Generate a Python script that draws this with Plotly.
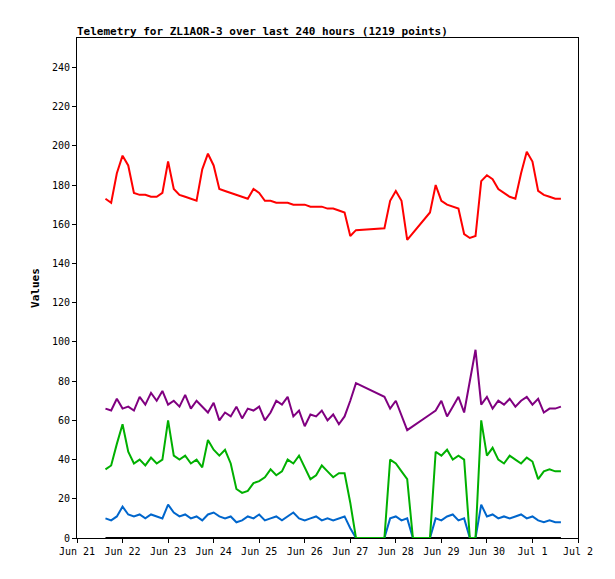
import pandas as pd
import plotly.graph_objects as go

# hours since Jun 21 00:00, sampled every 3 hours
hours = list(range(15, 256, 3))

red = [173, 171, 186, 195, 190, 176, 175, 175, 174, 174, 176, 192, 178, 175, 174, 173,
       172, 188, 196, 190, 178, 177, 176, 175, 174, 173, 178, 176, 172, 172, 171, 171,
       171, 170, 170, 170, 169, 169, 169, 168, 168, 167, 166, 154, 157, None, None, None,
       None, 158, 172, 177, 172, 152, None, None, None, 166, 180, 172, 170, 169, 168, 155,
       153, 154, 182, 185, 183, 178, 176, 174, 173, 186, 197, 192, 177, 175, 174, 173, 173]
purple = [66, 65, 71, 66, 67, 65, 72, 68, 74, 70, 75, 68, 70, 67, 73, 66,
          70, 67, 64, 69, 60, 64, 62, 67, 61, 66, 65, 67, 60, 64, 70, 68,
          72, 62, 65, 57, 63, 62, 65, 60, 63, 58, 62, 70, 79, None, None, None,
          None, 72, 66, 70, 62, 55, None, None, None, 63, 65, 70, 62, 67, 72, 64,
          80, 96, 68, 72, 66, 70, 68, 71, 67, 70, 72, 68, 71, 64, 66, 66, 67]
green = [35, 37, 48, 58, 44, 38, 40, 37, 41, 38, 40, 60, 42, 40, 42, 38,
         40, 36, 50, 45, 42, 45, 38, 25, 23, 24, 28, 29, 31, 35, 32, 34,
         40, 38, 42, 36, 30, 32, 37, 34, 31, 33, 33, 18, 0, 0, 0, 0,
         0, 0, 40, 38, 34, 30, 0, 0, 0, 0, 44, 42, 45, 40, 42, 40,
         0, 0, 60, 42, 46, 40, 38, 42, 40, 38, 41, 39, 30, 34, 35, 34, 34]
blue = [10, 9, 11, 16, 12, 11, 12, 10, 12, 11, 10, 17, 13, 11, 12, 10,
        11, 9, 12, 13, 11, 10, 11, 8, 9, 11, 10, 12, 9, 10, 11, 9,
        11, 13, 10, 9, 10, 11, 9, 10, 9, 10, 11, 5, 0, 0, 0, 0,
        0, 0, 10, 11, 9, 10, 0, 0, 0, 0, 10, 9, 11, 12, 9, 10,
        0, 0, 17, 11, 12, 10, 11, 10, 11, 12, 10, 11, 9, 8, 9, 8, 8]
zero = [0] * len(hours)

start = pd.Timestamp('2024-06-21')
times = [start + pd.Timedelta(hours=h) for h in hours]

fig = go.Figure()
for vals, col in [(zero, '#000000'), (blue, '#0066cc'), (green, '#00b000'),
                  (purple, '#800080'), (red, '#ff0000')]:
    fig.add_trace(go.Scatter(x=times, y=vals, mode='lines', connectgaps=True,
                             line=dict(color=col, width=2), showlegend=False))

mono = 'DejaVu Sans Mono'
fig.update_layout(
    width=615, height=579,
    margin=dict(l=69, r=45, t=30, b=49),
    paper_bgcolor='white', plot_bgcolor='white',
    font=dict(family=mono, size=10, color='black'),
    title=dict(text='<b>Telemetry for ZL1AOR-3 over last 240 hours (1219 points)</b>',
               x=69 / 615, xanchor='left', y=1 - 23 / 579, yanchor='middle',
               font=dict(family=mono, size=11)),
)
fig.update_xaxes(range=[start, start + pd.Timedelta(days=11)], dtick=86400000,
                 tickformat='%b %-d', showgrid=False, zeroline=False,
                 showline=True, linecolor='black', mirror=True,
                 ticks='outside', ticklen=4, tickcolor='black')
fig.update_yaxes(range=[0, 255], dtick=20, showgrid=False, zeroline=False,
                 showline=True, linecolor='black', mirror=True,
                 ticks='outside', ticklen=4, tickcolor='black',
                 title=dict(text='<b>Values</b>', standoff=10, font=dict(size=11)))

fig.write_html('out.html')
